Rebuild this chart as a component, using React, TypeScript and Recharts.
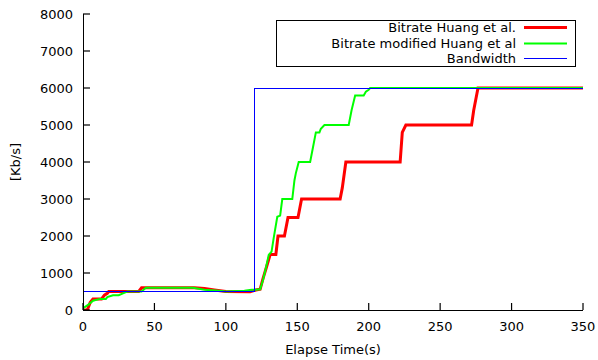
import React from 'react';
import { LineChart, Line, XAxis, YAxis, Legend } from 'recharts';

const FONT = '"DejaVu Sans", Verdana, sans-serif';
const FS = 13;

const xTicks = [0, 50, 100, 150, 200, 250, 300, 350];
const yTicks = [0, 1000, 2000, 3000, 4000, 5000, 6000, 7000, 8000];

const seriesNames = ['Bitrate Huang et al.', 'Bitrate modified Huang et al', 'Bandwidth'];
const seriesColors = ['#ff0000', '#00ff00', '#0000ff'];
const seriesWidths = [3, 2, 1];

const huangTime = [0, 3, 5, 7, 13, 15, 17, 18, 39, 41, 78, 85, 92, 100, 117, 121, 124, 126, 128.5, 131, 135, 136.5, 141, 143.5, 150.5, 153, 180, 181.5, 184, 222, 223.5, 226, 272, 273.5, 276.5, 350];
const huangRate = [0, 0, 200, 300, 300, 400, 450, 500, 500, 600, 600, 580, 540, 500, 490, 540, 560, 850, 1170, 1500, 1500, 2000, 2000, 2500, 2500, 3000, 3000, 3300, 4000, 4000, 4800, 5000, 5000, 5400, 6000, 6000];

const modTime = [0, 2, 4, 7, 12, 16, 17, 21, 25, 28, 31, 41, 44, 77, 85, 95, 100, 113, 118, 121, 124, 126, 128, 130, 132, 133.5, 136, 138, 139.5, 146.5, 148, 149, 151, 159, 161, 163, 165.5, 166.5, 169, 186, 188, 190.5, 196.5, 198, 200, 201, 350];
const modRate = [50, 100, 150, 250, 300, 300, 350, 400, 400, 450, 500, 500, 600, 600, 550, 520, 500, 520, 550, 550, 560, 810, 1130, 1490, 1580, 1950, 2520, 2550, 3000, 3000, 3500, 3700, 4000, 4000, 4400, 4800, 4800, 4900, 5000, 5000, 5400, 5800, 5800, 5900, 5950, 6000, 6000];

const bwTime = [0, 120, 120, 350];
const bwRate = [500, 500, 6000, 6000];

const zip = (t: number[], v: number[]) => t.map((x, i) => ({ x, y: v[i] }));
const huangData = zip(huangTime, huangRate);
const modData = zip(modTime, modRate);
const bwData = zip(bwTime, bwRate);

const TICK = 7;
const AXIS_Y = 310;
const AXIS_X = 83;
const TOP_Y = 14;
const RIGHT_X = 583;

const renderBottomTick = (props: any) => {
  const { x, payload, index } = props;
  return (
    <g key={`b${index}`}>
      <rect x={x - 0.6} y={AXIS_Y - TICK} width={1.2} height={TICK} fill="#000" />
      <text x={x} y={AXIS_Y + 20.5} textAnchor="middle" fontSize={FS} fontFamily={FONT} fill="#000">
        {payload.value}
      </text>
    </g>
  );
};

const renderTopTick = (props: any) => {
  const { x, index } = props;
  return <rect key={`t${index}`} x={x - 0.6} y={TOP_Y} width={1.2} height={TICK} fill="#000" />;
};

const renderLeftTick = (props: any) => {
  const { y, payload, index } = props;
  return (
    <g key={`l${index}`}>
      <rect x={AXIS_X} y={y - 0.6} width={TICK} height={1.2} fill="#000" />
      <text x={AXIS_X - 10} y={y + 4.7} textAnchor="end" fontSize={FS} fontFamily={FONT} fill="#000">
        {payload.value}
      </text>
    </g>
  );
};

const renderRightTick = (props: any) => {
  const { y, index } = props;
  return <rect key={`r${index}`} x={RIGHT_X - TICK} y={y - 0.6} width={TICK} height={1.2} fill="#000" />;
};

const XLabel = (props: any) => {
  const vb = props.viewBox || {};
  return (
    <text x={vb.x + vb.width / 2} y={AXIS_Y + 43.5} textAnchor="middle" fontSize={FS} fontFamily={FONT} fill="#000">
      Elapse Time(s)
    </text>
  );
};

const YLabel = (props: any) => {
  const vb = props.viewBox || {};
  const cx = 15.5;
  const cy = vb.y + vb.height / 2;
  return (
    <text x={cx} y={cy} transform={`rotate(-90 ${cx} ${cy})`} textAnchor="middle" dominantBaseline="central" fontSize={FS} fontFamily={FONT} fill="#000">
      [Kb/s]
    </text>
  );
};

const LegendBox = () => {
  const W = 299;
  const H = 46;
  const rows = [7.5, 23.5, 38.5];
  return (
    <svg width={W + 1} height={H + 1} style={{ display: 'block' }}>
      <rect x={0.5} y={0.5} width={W} height={H} fill="#fff" stroke="#000" strokeWidth={1} shapeRendering="crispEdges" />
      {seriesNames.map((name, i) => (
        <g key={i}>
          <text x={240} y={rows[i] + 4.6} textAnchor="end" fontSize={FS} fontFamily={FONT} fill="#000">
            {name}
          </text>
          <line x1={248} x2={291} y1={rows[i]} y2={rows[i]} stroke={seriesColors[i]} strokeWidth={seriesWidths[i]} />
        </g>
      ))}
    </svg>
  );
};

const axisLineStyle = { stroke: '#000', strokeWidth: 1, shapeRendering: 'crispEdges' } as any;

export default function App() {
  return (
    <div style={{ position: 'absolute', left: 0, top: 0, width: 598, height: 360, background: '#fff' }}>
      <LineChart width={598} height={360} margin={{ top: 14, right: 15, bottom: 0, left: 0 }}>
        <XAxis
          xAxisId={0}
          dataKey="x"
          type="number"
          domain={[0, 350]}
          ticks={xTicks}
          allowDataOverflow
          height={50}
          stroke="#000"
          tickSize={0}
          tickMargin={0}
          tickLine={false}
          axisLine={axisLineStyle}
          tick={renderBottomTick}
          interval={0}
          label={<XLabel />}
        />
        <XAxis
          xAxisId="top"
          dataKey="x"
          type="number"
          orientation="top"
          domain={[0, 350]}
          ticks={xTicks}
          height={0}
          stroke="#000"
          tickSize={0}
          tickMargin={0}
          tickLine={false}
          axisLine={axisLineStyle}
          tick={renderTopTick}
          interval={0}
        />
        <YAxis
          yAxisId={0}
          type="number"
          domain={[0, 8000]}
          ticks={yTicks}
          allowDataOverflow
          width={83}
          stroke="#000"
          tickSize={0}
          tickMargin={0}
          tickLine={false}
          axisLine={axisLineStyle}
          tick={renderLeftTick}
          interval={0}
          label={<YLabel />}
        />
        <YAxis
          yAxisId="right"
          type="number"
          orientation="right"
          domain={[0, 8000]}
          ticks={yTicks}
          width={0}
          stroke="#000"
          tickSize={0}
          tickMargin={0}
          tickLine={false}
          axisLine={axisLineStyle}
          tick={renderRightTick}
          interval={0}
        />
        <Line
          data={huangData}
          dataKey="y"
          name={seriesNames[0]}
          stroke={seriesColors[0]}
          strokeWidth={seriesWidths[0]}
          dot={false}
          activeDot={false}
          type="linear"
          isAnimationActive={false}
        />
        <Line
          data={modData}
          dataKey="y"
          name={seriesNames[1]}
          stroke={seriesColors[1]}
          strokeWidth={seriesWidths[1]}
          dot={false}
          activeDot={false}
          type="linear"
          isAnimationActive={false}
        />
        <Line
          data={bwData}
          dataKey="y"
          name={seriesNames[2]}
          stroke={seriesColors[2]}
          strokeWidth={seriesWidths[2]}
          shapeRendering="crispEdges"
          dot={false}
          activeDot={false}
          type="linear"
          isAnimationActive={false}
        />
        <Legend
          layout="vertical"
          align="center"
          verticalAlign="middle"
          wrapperStyle={{ position: 'absolute', left: 276, top: 20, width: 300, height: 47, margin: 0, padding: 0 }}
          content={<LegendBox />}
        />
      </LineChart>
    </div>
  );
}
